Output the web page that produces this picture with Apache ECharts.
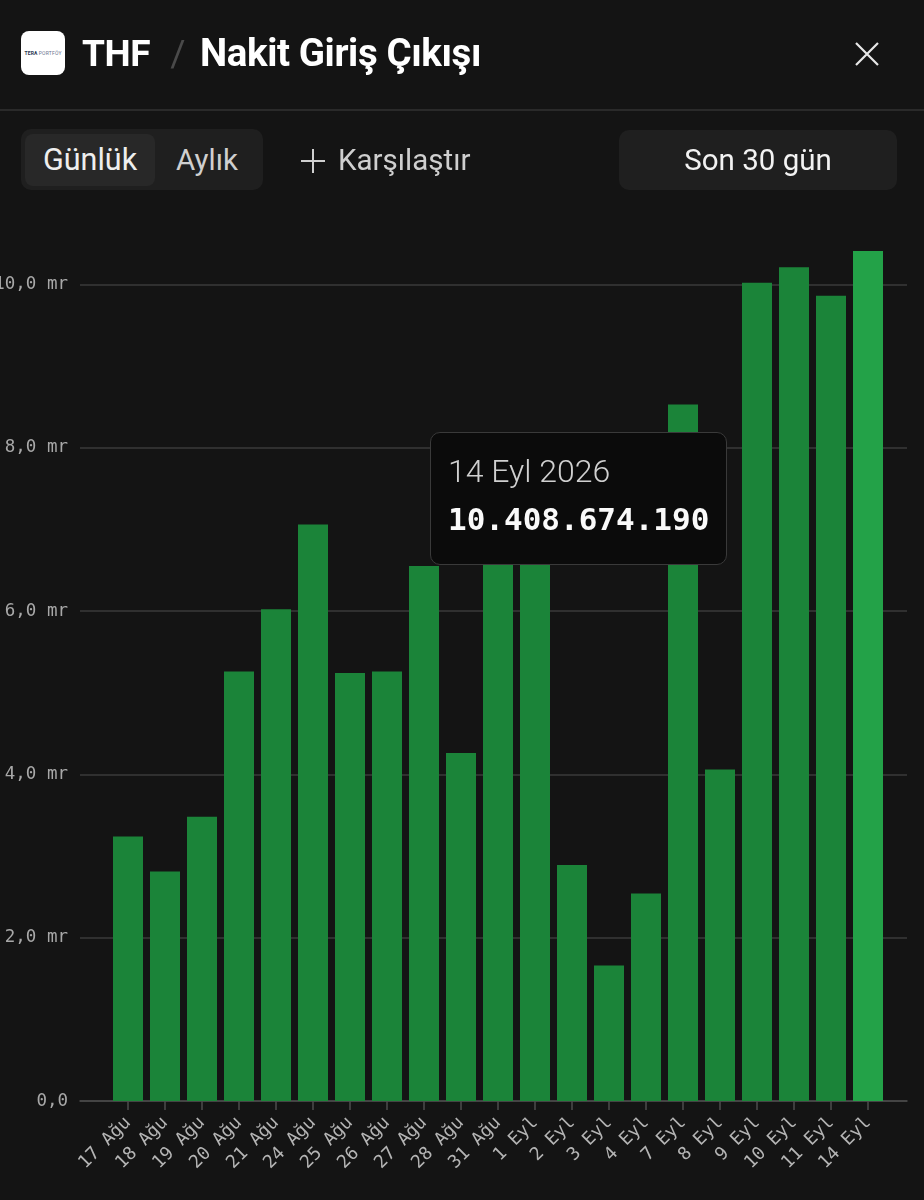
<!DOCTYPE html>
<html lang="tr">
<head>
<meta charset="utf-8">
<script src="https://cdn.jsdelivr.net/npm/echarts@6/dist/echarts.min.js"></script>
<style>
  html, body { margin:0; padding:0; background:#141414; width:924px; height:1200px; overflow:hidden; }
  body { position:relative; font-family: Roboto, "Noto Sans", sans-serif; }
  #chart { position:absolute; left:0; top:0; width:924px; height:1200px; z-index:1; }
  .hdr { position:absolute; z-index:2; color:#fff; white-space:nowrap; }
  #logo { left:21px; top:31px; width:44px; height:44px; background:#fff; border-radius:8px; color:#2a3550;
          font-size:5px; font-weight:700; display:flex; align-items:center; justify-content:center; letter-spacing:0.2px; }
  #logo span { font-weight:400; color:#6a7590; margin-left:1px; }
  #title { left:82px; top:29px; font-size:37px; font-weight:700; line-height:48px; letter-spacing:-0.4px; }
  #title .sep { color:#4a4a4a; font-weight:400; margin:0 15px 0 20px; }
  #title .main { font-size:38.5px; }
  #sepline { left:0; top:109px; width:924px; height:2px; background:#2a2a2a; }
  #seg { left:21px; top:129px; width:242px; height:61px; background:#1f1f1f; border-radius:10px; }
  #segSel { left:25px; top:134px; width:130px; height:52px; background:#282828; border-radius:8px; }
  .btxt { font-size:29.5px; line-height:36px; top:142px; }
  #g { left:43px; color:#eee; font-size:30.5px; }
  #a { left:176px; color:#cfcfcf; }
  #k { left:338px; color:#cfcfcf; }
  #son { left:619px; top:130px; width:278px; height:60px; background:#1f1f1f; border-radius:10px; }
  #sonT { left:619px; width:278px; text-align:center; color:#f2f2f2; }
</style>
</head>
<body>
<div id="chart"></div>
<div class="hdr" id="logo">TERA<span>PORTFÖY</span></div>
<div class="hdr" id="title">THF<span class="sep">/</span><span class="main">Nakit Giriş Çıkışı</span></div>
<svg class="hdr" style="left:855px;top:42px" width="24" height="24" viewBox="0 0 24 24">
  <path d="M1 1 L23 23 M23 1 L1 23" stroke="#e8e8e8" stroke-width="2.2" fill="none"/>
</svg>
<div class="hdr" id="sepline"></div>
<div class="hdr" id="seg"></div>
<div class="hdr" id="segSel"></div>
<div class="hdr btxt" id="g">Günlük</div>
<div class="hdr btxt" id="a">Aylık</div>
<svg class="hdr" style="left:300px;top:148px" width="26" height="26" viewBox="0 0 26 26">
  <path d="M13 1 L13 25 M1 13 L25 13" stroke="#cfcfcf" stroke-width="2" fill="none"/>
</svg>
<div class="hdr btxt" id="k">Karşılaştır</div>
<div class="hdr" id="son"></div>
<div class="hdr btxt" id="sonT">Son 30 gün</div>
<script>
// ---- data ----
const categories = ['17 Ağu','18 Ağu','19 Ağu','20 Ağu','21 Ağu','24 Ağu','25 Ağu','26 Ağu','27 Ağu','28 Ağu','31 Ağu',
                    '1 Eyl','2 Eyl','3 Eyl','4 Eyl','7 Eyl','8 Eyl','9 Eyl','10 Eyl','11 Eyl','14 Eyl'];
const netFlow = [3240000000, 2810000000, 3480000000, 5260000000, 6020000000, 7060000000, 5240000000, 5260000000,
                 6550000000, 4260000000, 7300000000, 7000000000, 2890000000, 1660000000, 2540000000, 8530000000,
                 4060000000, 10020000000, 10210000000, 9860000000, 10408674190];
const yTickLabels = ['0,0', '2,0 mr', '4,0 mr', '6,0 mr', '8,0 mr', '10,0 mr', '12,0 mr'];
const highlightedIndex = 20;
const tooltipDate = '14 Eyl 2026';

function groupTR(n) {
  return String(Math.round(n)).replace(/\B(?=(\d{3})+(?!\d))/g, '.');
}

const chart = echarts.init(document.getElementById('chart'), null, { renderer: 'canvas' });
const Y_MAX = 12e9, Y_INT = 2e9;
const option = {
  backgroundColor: 'transparent',
  animation: false,
  grid: [
    { left: 80, right: 17, top: 121, bottom: 99, containLabel: false, outerBoundsMode: 'none' },
    { left: 109.5, right: 37.5, top: 121, bottom: 99, containLabel: false, outerBoundsMode: 'none' }
  ],
  xAxis: [
    { type: 'value', gridIndex: 0, min: 0, max: 1, show: true,
      axisLine: { show: true, lineStyle: { color: '#4c4c4c', width: 1.5 } },
      axisTick: { show: false }, axisLabel: { show: false }, splitLine: { show: false } },
    { type: 'category', gridIndex: 1, data: categories, boundaryGap: true,
      axisLine: { show: false },
      axisTick: { show: true, alignWithLabel: true, length: 9, lineStyle: { color: '#4c4c4c', width: 1.5 } },
      axisLabel: { rotate: 45, interval: 0, margin: 19, color: '#b4b4b4', fontSize: 18,
                   fontFamily: '"DejaVu Sans Mono", monospace' } }
  ],
  yAxis: [
    { type: 'value', gridIndex: 0, min: 0, max: Y_MAX, interval: Y_INT,
      axisLine: { show: false }, axisTick: { show: false },
      axisLabel: { margin: 12, color: '#a8a8a8', fontSize: 17.5, fontFamily: '"DejaVu Sans Mono", monospace',
                   showMaxLabel: false,
                   formatter: v => yTickLabels[Math.round(v / Y_INT)] },
      splitLine: { show: true, showMaxLine: false, lineStyle: { color: '#3a3a3a', width: 1.5 } } },
    { type: 'value', gridIndex: 1, min: 0, max: Y_MAX, show: false, splitLine: { show: false } }
  ],
  tooltip: {
    trigger: 'item', triggerOn: 'none', alwaysShowContent: true, transitionDuration: 0,
    backgroundColor: '#0b0b0b', borderColor: '#3a3a3a', borderWidth: 1, padding: 0,
    extraCssText: 'border-radius:10px; box-shadow:none;',
    position: function () { return [430, 432]; },
    formatter: function (p) {
      return '<div style="box-sizing:border-box;width:295px;height:131px;padding:19px 17px 0 17px;">' +
        '<div style="font-family:Roboto,sans-serif;font-weight:300;font-size:32px;line-height:38px;color:#d0d0d0;">' + tooltipDate + '</div>' +
        '<div style="margin-top:10px;font-family:\'DejaVu Sans Mono\',monospace;font-weight:700;font-size:31px;line-height:38px;color:#fafafa;">' +
        groupTR(p.value) + '</div></div>';
    }
  },
  series: [{
    type: 'bar', xAxisIndex: 1, yAxisIndex: 1, barWidth: 30,
    itemStyle: { color: '#1b8439' },
    data: netFlow.map((v, i) => i === highlightedIndex ? { value: v, itemStyle: { color: '#23a248' } } : v)
  }]
};
chart.setOption(option);
chart.dispatchAction({ type: 'showTip', seriesIndex: 0, dataIndex: highlightedIndex });
</script>
</body>
</html>
